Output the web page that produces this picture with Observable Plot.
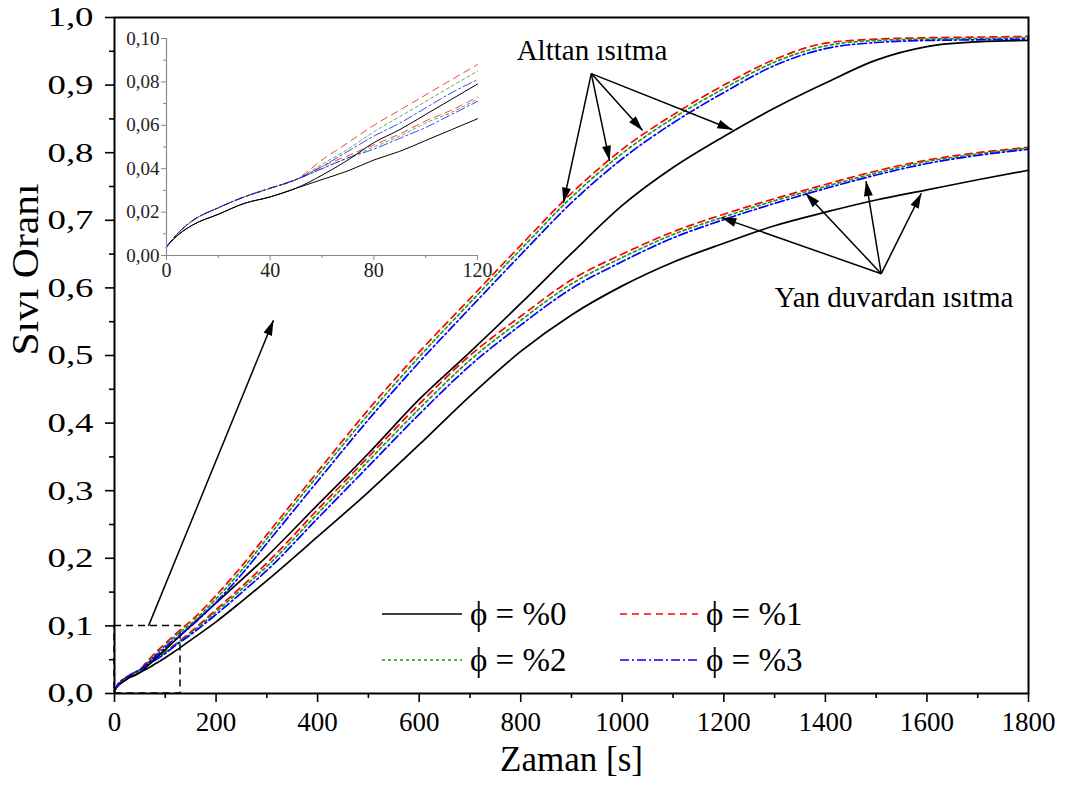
<!DOCTYPE html>
<html>
<head>
<meta charset="utf-8">
<script src="https://cdn.jsdelivr.net/npm/d3@7"></script>
<script src="https://cdn.jsdelivr.net/npm/@observablehq/plot@0.6"></script>
<style>
  body { margin: 0; background: #fff; }
  #wrap { position: relative; width: 1071px; height: 796px; font-family: "Liberation Serif", "Times New Roman", serif; }
  #inset { position: absolute; left: 116px; top: 28px; }
  .leg { position: absolute; display: flex; align-items: center; font-size: 33px; line-height: 1; white-space: nowrap; }
  .leg svg { margin-right: 8px; }
</style>
</head>
<body>
<div id="wrap"></div>
<script>
// ---- data ----
const times = [0,5,10,20,30,40,50,60,70,80,90,100,110,120,150,200,250,300,400,500,600,700,800,900,1000,1100,1200,1300,1400,1500,1600,1700,1800];

// Alttan ısıtma (bottom heating)
const bottom0 = [0.004,0.010,0.014,0.019,0.024,0.027,0.031,0.037,0.044,0.052,0.058,0.065,0.072,0.079,0.100,0.134,0.168,0.203,0.279,0.355,0.435,0.505,0.577,0.651,0.722,0.778,0.824,0.866,0.903,0.937,0.957,0.964,0.966];
const bottom1 = [0.004,0.011,0.016,0.022,0.027,0.031,0.035,0.044,0.052,0.060,0.067,0.074,0.081,0.088,0.107,0.145,0.188,0.235,0.328,0.420,0.505,0.584,0.663,0.740,0.805,0.856,0.900,0.938,0.962,0.968,0.970,0.971,0.972];
const bottom2 = [0.004,0.011,0.016,0.022,0.027,0.031,0.035,0.042,0.049,0.057,0.064,0.071,0.078,0.085,0.103,0.140,0.182,0.229,0.322,0.413,0.498,0.578,0.657,0.734,0.799,0.851,0.895,0.934,0.958,0.966,0.968,0.969,0.970];
const bottom3 = [0.004,0.011,0.016,0.022,0.027,0.031,0.035,0.041,0.048,0.055,0.061,0.068,0.075,0.081,0.099,0.135,0.176,0.222,0.314,0.405,0.490,0.570,0.649,0.726,0.791,0.844,0.889,0.929,0.954,0.963,0.966,0.967,0.968];

// Yan duvardan ısıtma (side wall heating)
const side0 = [0.004,0.010,0.014,0.019,0.024,0.027,0.031,0.035,0.039,0.044,0.048,0.053,0.058,0.063,0.079,0.106,0.136,0.167,0.232,0.298,0.368,0.440,0.506,0.560,0.603,0.638,0.666,0.692,0.712,0.730,0.745,0.760,0.774];
const side1 = [0.004,0.011,0.016,0.022,0.027,0.031,0.035,0.041,0.046,0.051,0.056,0.062,0.067,0.073,0.091,0.124,0.158,0.193,0.272,0.350,0.428,0.500,0.558,0.612,0.650,0.683,0.709,0.732,0.753,0.773,0.789,0.800,0.808];
const side2 = [0.004,0.011,0.016,0.022,0.027,0.031,0.035,0.040,0.045,0.050,0.055,0.061,0.066,0.072,0.089,0.121,0.154,0.188,0.266,0.344,0.421,0.493,0.552,0.606,0.645,0.679,0.705,0.729,0.750,0.770,0.787,0.798,0.807];
const side3 = [0.004,0.011,0.016,0.022,0.027,0.031,0.035,0.040,0.045,0.049,0.054,0.059,0.065,0.071,0.087,0.117,0.149,0.182,0.259,0.336,0.413,0.485,0.545,0.599,0.639,0.674,0.701,0.725,0.747,0.767,0.784,0.796,0.805];

const seriesLabels = ["ϕ = %0", "ϕ = %1", "ϕ = %2", "ϕ = %3"];
const seriesColors = ["#000000", "#ff0000", "#1a9a1a", "#0000ff"];
const seriesDash = [null, "7,5", "3,3", "9,3,2,3"];

const xTicks = [0,200,400,600,800,1000,1200,1400,1600,1800];
const xMinor = [100,300,500,700,900,1100,1300,1500,1700];
const yTicks = [0,0.1,0.2,0.3,0.4,0.5,0.6,0.7,0.8,0.9,1.0];
const yMinor = [0.05,0.15,0.25,0.35,0.45,0.55,0.65,0.75,0.85,0.95];

const insetXTicks = [0,40,80,120];
const insetXMinor = [20,60,100];
const insetYTicks = [0,0.02,0.04,0.06,0.08,0.10];
const insetYMinor = [0.01,0.03,0.05,0.07,0.09];

// annotations
const annotationTexts = ["Alttan ısıtma", "Yan duvardan ısıtma"];
const annotationX = [792, 1300];
const annotationY = [0.951, 0.586];
const arrowX1 = [939, 939, 939, 939, 1510, 1510, 1510, 1510, 67];
const arrowY1 = [0.917, 0.917, 0.917, 0.917, 0.621, 0.621, 0.621, 0.621, 0.100];
const arrowX2 = [884, 975, 1040, 1217, 1195, 1361, 1480, 1589, 313];
const arrowY2 = [0.726, 0.788, 0.833, 0.834, 0.704, 0.740, 0.758, 0.740, 0.552];
const zoomBoxX = [0, 130];
const zoomBoxY = [0, 0.1];

// ---- build ----
const bottomSeries = [bottom0, bottom1, bottom2, bottom3];
const sideSeries = [side0, side1, side2, side3];
const toRows = (vals) => times.map((t, i) => ({t, v: vals[i]}));

const W = 1071, H = 796;
const mL = 114, mR = 43, mT = 17, mB = 103;
const fmt1 = d => d3.format(".1f")(d).replace(".", ",");
const fmt2 = d => d3.format(".2f")(d).replace(".", ",");

const sx = Plot.scale({x: {domain: [0, 1800], range: [mL, W - mR]}});
const sy = Plot.scale({y: {domain: [0, 1], range: [H - mB, mT]}});
const arrows = arrowX1.map((x1, i) => {
  const dx = sx.apply(arrowX2[i]) - sx.apply(x1);
  const dy = sy.apply(arrowY2[i]) - sy.apply(arrowY1[i]);
  return {x1, y1: arrowY1[i], x2: arrowX2[i], y2: arrowY2[i], angle: Math.atan2(dx, -dy) * 180 / Math.PI};
});
const arrowHead = {draw(ctx) { ctx.moveTo(0, 0); ctx.lineTo(4.5, 15); ctx.lineTo(-4.5, 15); ctx.closePath(); }};

const lineMarks = (rowsFn, width, opacity) => {
  const marks = [];
  [sideSeries, bottomSeries].forEach(group => {
    group.forEach((vals, k) => {
      marks.push(Plot.line(rowsFn(vals), {
        x: "t", y: "v", stroke: seriesColors[k], strokeWidth: width,
        strokeDasharray: seriesDash[k] || undefined, curve: "monotone-x",
        strokeOpacity: k === 0 ? 1 : opacity
      }));
    });
  });
  return marks;
};

const main = Plot.plot({
  width: W, height: H,
  marginLeft: mL, marginRight: mR, marginTop: mT, marginBottom: mB,
  x: {domain: [0, 1800]},
  y: {domain: [0, 1]},
  style: {fontFamily: "'Liberation Serif', 'Times New Roman', serif", background: "white", color: "black", overflow: "visible"},
  marks: [
    Plot.rect([{x1: zoomBoxX[0], x2: zoomBoxX[1], y1: zoomBoxY[0], y2: zoomBoxY[1]}],
      {x1: "x1", x2: "x2", y1: "y1", y2: "y2", fill: "none", stroke: "black", strokeWidth: 1.5, strokeDasharray: "7,5"}),
    ...lineMarks(toRows, 1.7, 1),
    Plot.frame({stroke: "black", strokeWidth: 2}),
    Plot.axisX({ticks: xTicks, tickSize: 9, tickPadding: 9, tickFormat: d => String(d), fontSize: 27, strokeWidth: 1.6, label: null}),
    Plot.axisX({ticks: xMinor, tickSize: 5, tickFormat: () => "", strokeWidth: 1.6, label: null}),
    Plot.axisY({ticks: yTicks, tickSize: 9, tickPadding: 12, tickFormat: fmt1, fontSize: 28, strokeWidth: 1.6, label: null}),
    Plot.axisY({ticks: yMinor, tickSize: 5, tickFormat: () => "", strokeWidth: 1.6, label: null}),
    Plot.link(arrows, {x1: "x1", y1: "y1", x2: "x2", y2: "y2", stroke: "black", strokeWidth: 1.5}),
    Plot.dot(arrows, {x: "x2", y: "y2", rotate: "angle", symbol: arrowHead, fill: "black", stroke: "none", r: 5}),
    Plot.text(annotationTexts, {x: (d, i) => annotationX[i], y: (d, i) => annotationY[i], text: d => d, textAnchor: "start", fontSize: 29, fill: "black"}),
    Plot.text(["Zaman [s]"], {frameAnchor: "bottom", dy: 77, fontSize: 35, fill: "black"}),
    Plot.text(["Sıvı Oranı"], {frameAnchor: "left", dx: -88, rotate: -90, fontSize: 37, fill: "black"})
  ]
});

// widen the y tick labels as in the reference
main.querySelectorAll('g[aria-label="y-axis tick label"] text').forEach(t => {
  if (t.textContent) { t.setAttribute("textLength", 46); t.setAttribute("lengthAdjust", "spacingAndGlyphs"); }
});
// stretch the y title vertically as in the reference
main.querySelectorAll('text').forEach(t => {
  if (t.textContent === "Sıvı Oranı") { t.setAttribute("textLength", 172); t.setAttribute("lengthAdjust", "spacingAndGlyphs"); }
});

const insetRows = vals => toRows(vals).filter(d => d.t <= 120);
const inset = Plot.plot({
  width: 373, height: 255,
  marginLeft: 50, marginRight: 12, marginTop: 10, marginBottom: 28,
  x: {domain: [0, 120]},
  y: {domain: [0, 0.1]},
  style: {fontFamily: "'Liberation Serif', 'Times New Roman', serif", background: "transparent", color: "#222", overflow: "visible"},
  marks: [
    ...lineMarks(insetRows, 1, 0.75),
    Plot.ruleY([0], {stroke: "#8a8a8a", strokeWidth: 1.2}),
    Plot.ruleX([0], {stroke: "#8a8a8a", strokeWidth: 1.2}),
    Plot.axisX({ticks: insetXTicks, tickSize: 5, tickPadding: 2, tickFormat: d => String(d), fontSize: 20, stroke: "#8a8a8a", label: null}),
    Plot.axisX({ticks: insetXMinor, tickSize: 3, tickFormat: () => "", stroke: "#8a8a8a", label: null}),
    Plot.axisY({ticks: insetYTicks, tickSize: 5, tickPadding: 2, tickFormat: fmt2, fontSize: 19, stroke: "#8a8a8a", label: null}),
    Plot.axisY({ticks: insetYMinor, tickSize: 3, tickFormat: () => "", stroke: "#8a8a8a", label: null})
  ]
});
inset.id = "inset";

const wrap = document.getElementById("wrap");
wrap.appendChild(main);
wrap.appendChild(inset);

// legend (inside the plot area, lower right)
const legendPos = [[382, 614], [620, 614], [382, 660], [620, 660]];
seriesLabels.forEach((lab, k) => {
  const div = document.createElement("div");
  div.className = "leg";
  div.style.left = legendPos[k][0] + "px";
  div.style.top = (legendPos[k][1] - 18) + "px";
  div.style.height = "36px";
  const ns = "http://www.w3.org/2000/svg";
  const s = document.createElementNS(ns, "svg");
  s.setAttribute("width", k % 2 === 0 ? 80 : 78);
  s.setAttribute("height", 10);
  const ln = document.createElementNS(ns, "line");
  ln.setAttribute("x1", 0); ln.setAttribute("x2", k % 2 === 0 ? 80 : 78);
  ln.setAttribute("y1", 5); ln.setAttribute("y2", 5);
  ln.setAttribute("stroke", seriesColors[k]);
  ln.setAttribute("stroke-width", 1.7);
  if (seriesDash[k]) ln.setAttribute("stroke-dasharray", seriesDash[k]);
  s.appendChild(ln);
  div.appendChild(s);
  const sp = document.createElement("span");
  sp.textContent = lab;
  div.appendChild(sp);
  wrap.appendChild(div);
});
</script>
</body>
</html>
